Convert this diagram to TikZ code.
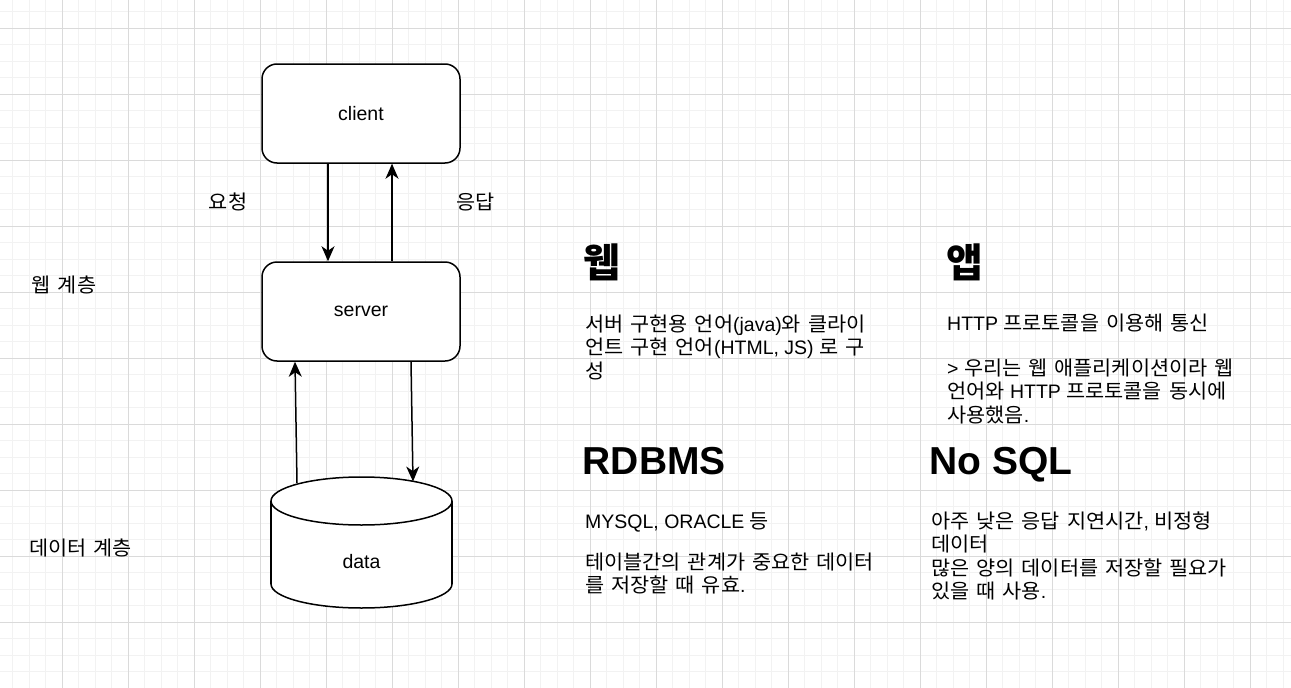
\documentclass[tikz,border=0pt]{standalone}
\usepackage{fontspec}
\setmainfont{Liberation Sans}
\newfontfamily\kr{Noto Sans CJK KR}
\newfontfamily\krs{Noto Sans CJK KR}[FakeStretch=1.04]
\newcommand\korfont{\krs\fontsize{20}{23.5}\selectfont\spaceskip=7pt\relax}
\newcommand\kor[1]{{\korfont #1}}
\usetikzlibrary{arrows.meta}
\definecolor{gridmin}{HTML}{F2F2F2}
\definecolor{gridmaj}{HTML}{DADADA}
\begin{document}
\begin{tikzpicture}[x=1pt,y=-1pt,
  box/.style={draw=black, fill=white, line width=1.5pt, rounded corners=15pt,
    minimum width=198pt, minimum height=99pt, inner sep=0pt,
    font=\fontsize{19.5}{23.5}\selectfont},
  arr/.style={line width=1.5pt, -{Stealth[length=15pt,width=13pt,inset=4.5pt]}},
  lbl/.style={inner sep=0pt, font=\korfont},
  body/.style={anchor=north west, align=left, inner sep=0pt,
    font=\fontsize{19.5}{23.5}\selectfont},
  head/.style={inner sep=0pt, font=\fontsize{39}{46}\selectfont\bfseries},
  khead/.style={inner sep=0pt, font=\kr\fontsize{40}{46}\selectfont\bfseries},
  dbline/.style={line width=1.5pt}]
\useasboundingbox (0,0) rectangle (1291,688);
\fill[white] (0,0) rectangle (1291,688);
\begin{scope}
  \clip (0,0) rectangle (1291,688);
  \foreach \i in {0,...,80} \draw[gridmin, line width=1pt] ({-3.7+16.5*\i},0) -- ({-3.7+16.5*\i},688);
  \foreach \i in {0,...,45} \draw[gridmin, line width=1pt] (0,{-37.7+16.5*\i}) -- (1291,{-37.7+16.5*\i});
  \foreach \i in {0,...,20} \draw[gridmaj, line width=1pt] ({-3.7+66*\i},0) -- ({-3.7+66*\i},688);
  \foreach \i in {0,...,11} \draw[gridmaj, line width=1pt] (0,{-37.7+66*\i}) -- (1291,{-37.7+66*\i});
\end{scope}

% boxes
\node[box] (client) at (361,113.5) {client};
\node[box] (server) at (361,311.5) {server};

% cylinder
\draw[dbline, fill=white] (361.5,584) ellipse [x radius=90.5, y radius=24];
\fill[white] (271,501) rectangle (452,584);
\draw[dbline] (271,501) -- (271,584) (452,501) -- (452,584);
\draw[dbline, fill=white] (361.5,501) ellipse [x radius=90.5, y radius=24];
\node[inner sep=0pt, font=\fontsize{19.5}{23.5}\selectfont] (data) at (361.5,562) {data};
\coordinate (dbL) at (297,483);
\coordinate (dbR) at (413,481.5);

% connectors
\draw[arr] ([xshift=-33pt]client.south) -- ([xshift=-33pt]server.north);
\draw[arr] ([xshift=31pt]server.north) -- ([xshift=31pt]client.south);
\draw[arr] (dbL) -- ([xshift=-66pt]server.south);
\draw[arr] ([xshift=50pt]server.south) -- (dbR);

% labels
\node[lbl] (req) at (228,202) {요청};
\node[lbl] (res) at (475.5,202.5) {응답};
\node[lbl] (weblayer) at (64,285) {웹 계층};
\node[lbl] (datalayer) at (80.5,548) {데이터 계층};

% headings
\node[khead, anchor=west] (hweb) at (583,262) {웹};
\node[khead, anchor=west] (happ) at (946,262) {앱};
\node[head, anchor=base west] (hrdb) at (582.5,474) {RDBMS};
\node[head, anchor=base west] (hnosql) at (929.5,474) {No SQL};

% bodies
\node[body] (bweb) at (585,313) {\rule{0pt}{18pt}\kor{서버 구현용 언어}(java)\kor{와 클라이}\\
  \kor{언트 구현 언어}(HTML, JS) \kor{로 구}\\
  \kor{성}};
\node[body] (bapp) at (947,312) {\rule{0pt}{18pt}HTTP \kor{프로토콜을 이용해 통신}\\[21.5pt]
  > \kor{우리는 웹 애플리케이션이라 웹}\\
  \kor{언어와} HTTP \kor{프로토콜을 동시에}\\
  \kor{사용했음}.};
\node[body] (brdb) at (585,510) {\rule{0pt}{18pt}MYSQL, ORACLE \kor{등}\\[17.5pt]
  \kor{테이블간의 관계가 중요한 데이터}\\
  \kor{를 저장할 때 유효}.};
\node[body] (bnosql) at (931,510) {\rule{0pt}{18pt}\kor{아주 낮은 응답 지연시간}, \kor{비정형}\\
  \kor{데이터}\\
  \kor{많은 양의 데이터를 저장할 필요가}\\
  \kor{있을 때 사용}.};
\end{tikzpicture}
\end{document}
